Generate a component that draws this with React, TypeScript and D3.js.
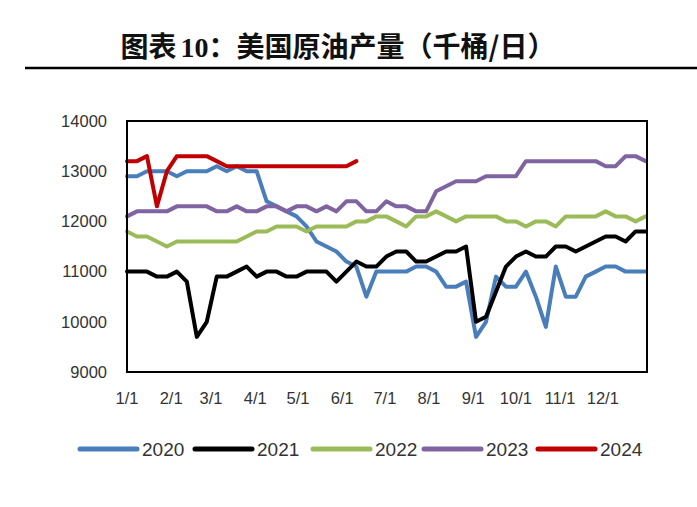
import React from "react";
import * as d3 from "d3";

const years = ["2020", "2021", "2022", "2023", "2024"];
const colors = ["#4A7EBB", "#000000", "#9BBB59", "#8064A2", "#C00000"];

const s2020 = [12900,12900,13000,13000,13000,12900,13000,13000,13000,13100,
  13000,13100,13000,13000,12400,12300,12200,12100,11900,11600,
  11500,11400,11200,11100,10500,11000,11000,11000,11000,11100,
  11100,11000,10700,10700,10800,9700,10000,10900,10700,10700,
  11000,10500,9900,11100,10500,10500,10900,11000,11100,11100,
  11000,11000,11000];
const s2021 = [11000,11000,11000,10900,10900,11000,10800,9700,10000,10900,
  10900,11000,11100,10900,11000,11000,10900,10900,11000,11000,
  11000,10800,11000,11200,11100,11100,11300,11400,11400,11200,
  11200,11300,11400,11400,11500,10000,10100,10600,11100,11300,
  11400,11300,11300,11500,11500,11400,11500,11600,11700,11700,
  11600,11800,11800];
const s2022 = [11800,11700,11700,11600,11500,11600,11600,11600,11600,11600,
  11600,11600,11700,11800,11800,11900,11900,11900,11800,11900,
  11900,11900,11900,12000,12000,12100,12100,12000,11900,12100,
  12100,12200,12100,12000,12100,12100,12100,12100,12000,12000,
  11900,12000,12000,11900,12100,12100,12100,12100,12200,12100,
  12100,12000,12100];
const s2023 = [12100,12200,12200,12200,12200,12300,12300,12300,12300,12200,
  12200,12300,12200,12200,12300,12300,12200,12300,12300,12200,
  12300,12200,12400,12400,12200,12200,12400,12300,12300,12200,
  12200,12600,12700,12800,12800,12800,12900,12900,12900,12900,
  13200,13200,13200,13200,13200,13200,13200,13200,13100,13100,
  13300,13300,13200];
const s2024 = [13200,13200,13300,12300,13000,13300,13300,13300,13300,13200,
  13100,13100,13100,13100,13100,13100,13100,13100,13100,13100,
  13100,13100,13100,13200];
const series = [s2020, s2021, s2022, s2023, s2024];

const yTicks = [9000, 10000, 11000, 12000, 13000, 14000];
const monthLabels = ["1/1","2/1","3/1","4/1","5/1","6/1","7/1","8/1","9/1","10/1","11/1","12/1"];

const W = 697, H = 507;
const L = 127, R = 647, T = 121, B = 372;

export default function App() {
  const start = new Date(2021, 0, 1);
  const end = new Date(2022, 0, 1);
  const x = d3.scaleTime().domain([start, end]).range([L, R]);
  const y = d3.scaleLinear().domain([9000, 14000]).range([B, T]);
  const weekDate = (i: number) => d3.timeDay.offset(start, i * 7);
  const line = d3.line<number>().x((_, i) => x(weekDate(i))).y(d => y(d)).curve(d3.curveLinear);
  const monthDates = monthLabels.map((_, i) => new Date(2021, i, 1));
  const tickFont = "'Liberation Sans', Arial, sans-serif";

  const legendX = [80, 195, 313, 424, 538];
  const legendY = 449;

  return (
    <svg width={W} height={H} style={{ position: "absolute", left: 0, top: 0, background: "#fff" }}>
      <rect x={0} y={0} width={W} height={H} fill="#fff" />
      <text x={338} y={57} textAnchor="middle" fontSize={28} fontWeight="bold"
        fontFamily="'Noto Sans CJK SC', sans-serif" fill="#111">
        图表<tspan fontFamily="'Liberation Serif', serif" dx={4}>10</tspan>：美国原油产量（千桶/日）
      </text>
      <line x1={25} x2={697} y1={68} y2={68} stroke="#000" strokeWidth={2.5} />

      {yTicks.map(t => (
        <text key={t} x={107} y={y(t)} dy="0.35em" textAnchor="end" fontSize={16.5}
          fontFamily={tickFont} fill="#333">{t}</text>
      ))}
      {monthDates.map((d, i) => (
        <text key={i} x={x(d)} y={398} dy="0.35em" textAnchor="middle" fontSize={16.5}
          fontFamily={tickFont} fill="#333">{monthLabels[i]}</text>
      ))}

      {series.map((s, k) => (
        <path key={k} d={line(s) || ""} fill="none" stroke={colors[k]} strokeWidth={4}
          strokeLinejoin="round" strokeLinecap="round" />
      ))}

      <rect x={L} y={T} width={R - L} height={B - T} fill="none" stroke="#000" strokeWidth={2} />

      {years.map((yr, k) => (
        <g key={yr}>
          <line x1={legendX[k]} x2={legendX[k] + 57} y1={legendY} y2={legendY}
            stroke={colors[k]} strokeWidth={5} strokeLinecap="round" />
          <text x={legendX[k] + 62} y={legendY} dy="0.36em" fontSize={19}
            fontFamily={tickFont} fill="#333">{yr}</text>
        </g>
      ))}
    </svg>
  );
}
